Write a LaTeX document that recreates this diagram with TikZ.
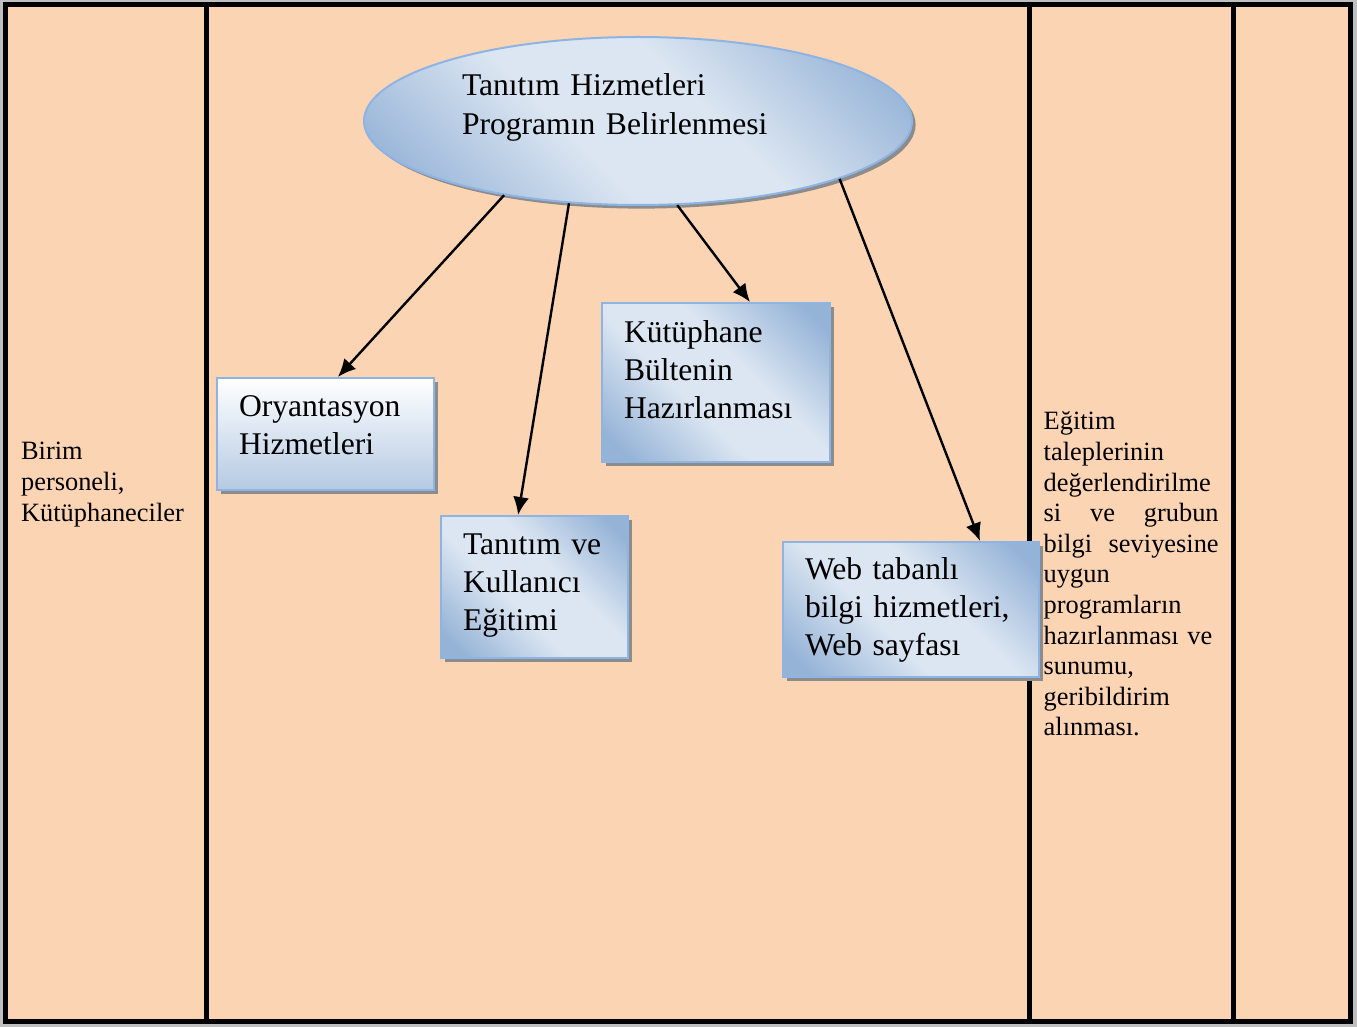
\documentclass[tikz,border=0pt]{standalone}
\usepackage{fontspec}
\setmainfont{Liberation Serif}
\usepackage{xcolor}
\usepackage{tikz}
\usetikzlibrary{shapes, arrows.meta, shadows}

\definecolor{seftali}{HTML}{FBD4B4}
\definecolor{acikmavi}{HTML}{DCE6F2}
\definecolor{koyumavi}{HTML}{95B3D7}
\definecolor{kenarmavi}{HTML}{8EB4E3}
\pgfdeclareverticalshading{mavigecis}{100bp}{color(0bp)=(koyumavi); color(20bp)=(koyumavi);
  color(42bp)=(acikmavi); color(58bp)=(acikmavi); color(80bp)=(koyumavi); color(100bp)=(koyumavi)}

\begin{document}
\begin{tikzpicture}[x=0.5pt, y=-0.5pt, >={Latex[length=9pt, width=8pt]},
        cizgi/.style={line width=2.5pt},
        ok/.style={->, line width=1.2pt},
        golge/.style={drop shadow={shadow xshift=1.8pt, shadow yshift=-1.8pt, fill=black!45, opacity=1}},
        kutu/.style={rectangle, draw=kenarmavi, line width=1pt, golge,
          shading=mavigecis, shading angle=-45,
          inner xsep=11pt, inner ysep=2pt, align=left, text height=11pt,
          font=\fontsize{15.8}{19}\selectfont},
        elips/.style={ellipse, draw=kenarmavi, line width=1pt, golge,
          shading=mavigecis, shading angle=-45,
          inner sep=2pt, align=left, text height=11pt,
          font=\fontsize{15.8}{19.5}\selectfont},
        serit/.style={inner sep=0pt, align=left, font=\fontsize{13.2}{15.3}\selectfont}]
        \useasboundingbox (0,0) rectangle (1357,1027);
        % zemin ve seritler
        \fill[black!25] (0,0) rectangle (1357,1027);
        \fill[seftali] (5.5,4.2) rectangle (1350.5,1021.5);
        \draw[cizgi] (5.5,4.2) rectangle (1350.5,1021.5)
          (206,4.2) -- (206,1021.5)
          (1029.5,4.2) -- (1029.5,1021.5)
          (1233.5,4.2) -- (1233.5,1021.5);

        \node[serit, anchor=base west, text width=85pt] (birim) at (20.7,460) {Birim\\personeli,\\Kütüphaneciler};
        \node[serit, anchor=base west, text width=87.5pt] (egitim) at (1043.3,430)
          {Eğitim\\taleplerinin\\değerlendirilme\\si\hfill ve\hfill grubun\\bilgi\hfill seviyesine\\uygun\\programların\\hazırlanması ve\\sunumu,\\geribildirim\\alınması.};

        % program ve kutular
        \node[elips, minimum width=274pt, minimum height=84pt, text width=176pt, text depth=36pt]
          (prog) at (638,121) {Tanıtım Hizmetleri\\Programın Belirlenmesi};
        \node[kutu, top color=white, bottom color=koyumavi!55!acikmavi, shading angle=0,
          minimum width=108.5pt, minimum height=56pt, text width=86.5pt, text depth=28.3pt]
          (ory) at (325.5,434) {Oryantasyon\\Hizmetleri};
        \node[kutu, minimum width=93.5pt, minimum height=71pt, text width=71.5pt, text depth=43pt]
          (tan) at (534.5,587) {Tanıtım ve\\Kullanıcı\\Eğitimi};
        \node[kutu, minimum width=114pt, minimum height=79.5pt, text width=92pt, text depth=50.5pt]
          (bulten) at (716,382.5) {Kütüphane\\Bültenin\\Hazırlanması};
        \node[kutu, minimum width=128pt, minimum height=67.5pt, text width=106pt, text depth=40.5pt]
          (web) at (911,609.5) {Web tabanlı\\bilgi hizmetleri,\\Web sayfası};

        \path[ok]
          (prog.209.5) edge ([xshift=6.2pt]ory.north)
          (prog.230.6) edge ([xshift=-8.2pt]tan.north)
          (prog.295.4) edge ([xshift=17pt]bulten.north)
          (prog.344)   edge ([xshift=34.5pt]web.north);
\end{tikzpicture}
\end{document}
